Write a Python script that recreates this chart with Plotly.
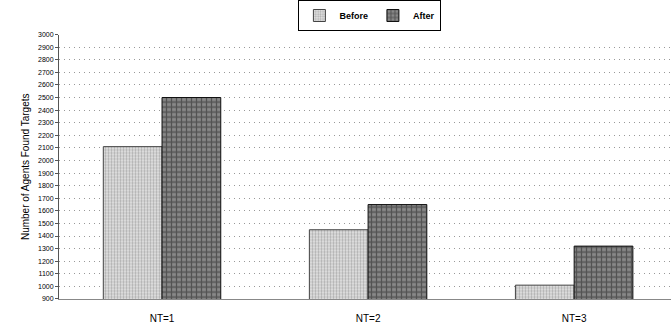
import plotly.graph_objects as go

categories = ["NT=1", "NT=2", "NT=3"]
before = [2110, 1450, 1010]
after = [2500, 1650, 1320]
y_ticks = list(range(900, 3001, 100))

fig = go.Figure()
fig.add_trace(go.Bar(
    name="<b>Before</b>", x=categories, y=before,
    marker=dict(color="#d8d8d8", line=dict(color="#444444", width=1),
                pattern=dict(shape=".", fgcolor="#777777", bgcolor="#e4e4e4", size=3, solidity=0.45)),
))
fig.add_trace(go.Bar(
    name="<b>After</b>", x=categories, y=after,
    marker=dict(color="#555555", line=dict(color="#111111", width=1),
                pattern=dict(shape="+", fgcolor="#1e1e1e", bgcolor="#888888", size=5, solidity=0.45)),
))

fig.update_layout(
    width=671, height=332,
    margin=dict(l=59, r=0, t=33, b=33),
    paper_bgcolor="white", plot_bgcolor="white",
    barmode="group", bargap=0.43, bargroupgap=0,
    font=dict(family="Liberation Sans, Arial", color="black"),
    showlegend=True,
    legend=dict(orientation="h", x=0.508, xanchor="center", yref="container", y=1.0, yanchor="top",
                bordercolor="black", borderwidth=1, bgcolor="white",
                font=dict(size=9), itemwidth=30, tracegroupgap=0),
)
fig.update_xaxes(range=[-0.5, 2.47], showline=True, linecolor="#888888", linewidth=1,
                 ticks="", tickfont=dict(size=10), ticklabelstandoff=10, showgrid=False)
fig.update_yaxes(range=[900, 3000], tickvals=y_ticks, ticktext=[str(v) for v in y_ticks],
                 tickfont=dict(size=7), ticks="outside", ticklen=3, tickcolor="#555555",
                 showline=True, linecolor="#555555", linewidth=1,
                 showgrid=True, gridcolor="#999999", griddash="1px,4px", gridwidth=1,
                 title=dict(text="Number of Agents Found Targets", font=dict(size=10), standoff=6))

fig.write_html("out.html")
